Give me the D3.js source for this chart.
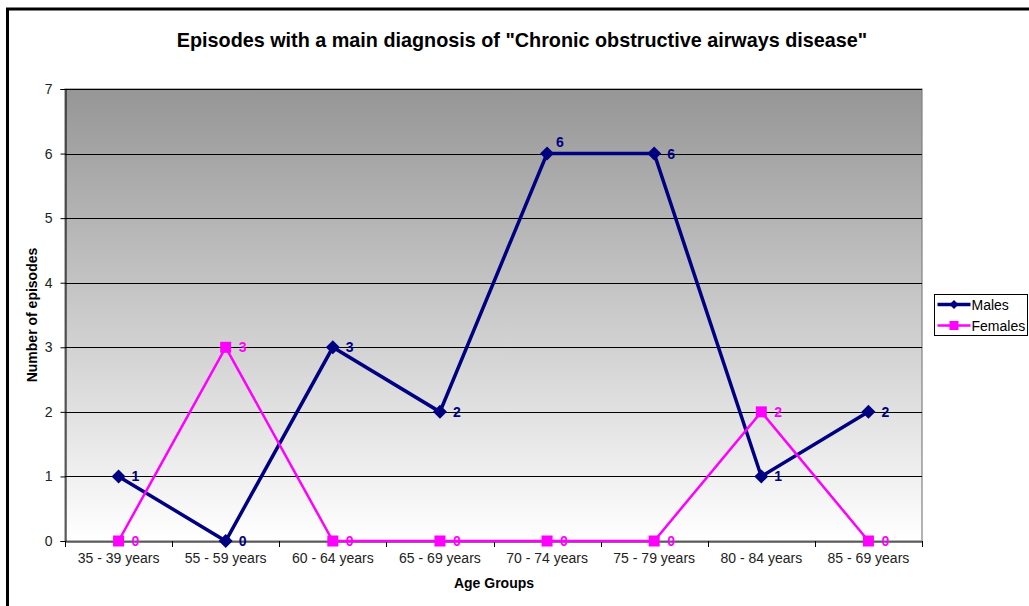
<!DOCTYPE html>
<html>
<head>
<meta charset="utf-8">
<script src="https://cdn.jsdelivr.net/npm/d3@7"></script>
<style>
  html, body { margin: 0; padding: 0; background: #fff; }
  svg { display: block; font-family: Arial, "Liberation Sans", sans-serif; }
</style>
</head>
<body>
<svg id="chart" width="1029" height="606"></svg>
<script>
// Episodes by age group
const categories = ["35 - 39 years", "55 - 59 years", "60 - 64 years", "65 - 69 years",
                    "70 - 74 years", "75 - 79 years", "80 - 84 years", "85 - 69 years"];
const males   = [1, 0, 3, 2, 6, 6, 1, 2];
const females = [0, 3, 0, 0, 0, 0, 2, 0];
const yTicks  = [0, 1, 2, 3, 4, 5, 6, 7];

const series = [
  { name: "Males",   values: males,   color: "#000080", width: 3.5, marker: "diamond" },
  { name: "Females", values: females, color: "#ff00ff", width: 2.5, marker: "square" }
];

const svg = d3.select("#chart");
const margin = { left: 65, right: 1029 - 922, top: 89, bottom: 606 - 541 };
const W = 1029, H = 606;

// outer chart frame
svg.append("rect")
  .attr("x", 7.5).attr("y", 9).attr("width", 1100).attr("height", 700)
  .attr("fill", "#fff").attr("stroke", "#000").attr("stroke-width", 3);

const x = d3.scaleBand().domain(categories).range([margin.left, W - margin.right]);
const y = d3.scaleLinear().domain([0, 7]).range([H - margin.bottom, margin.top]);

// plot area background gradient
const defs = svg.append("defs");
const grad = defs.append("linearGradient").attr("id", "bg")
  .attr("x1", 0).attr("y1", 0).attr("x2", 0).attr("y2", 1);
grad.append("stop").attr("offset", "0%").attr("stop-color", "#969696");
grad.append("stop").attr("offset", "100%").attr("stop-color", "#ffffff");

svg.append("rect")
  .attr("x", margin.left).attr("y", margin.top)
  .attr("width", W - margin.right - margin.left)
  .attr("height", H - margin.bottom - margin.top)
  .attr("fill", "url(#bg)")
  .attr("stroke", "#808080").attr("stroke-width", 1.2);

// horizontal gridlines
svg.append("g").selectAll("line").data(yTicks.slice(1)).join("line")
  .attr("x1", margin.left).attr("x2", W - margin.right)
  .attr("y1", d => Math.round(y(d)) + 0.5).attr("y2", d => Math.round(y(d)) + 0.5)
  .attr("stroke", "#000").attr("stroke-width", 1);

// y axis
const yAxis = svg.append("g")
  .attr("transform", `translate(${margin.left + 0.5},0)`)
  .call(d3.axisLeft(y).tickValues(yTicks).tickSize(5).tickPadding(8).tickFormat(d3.format("d")));
yAxis.select(".domain").attr("stroke", "#000");
yAxis.selectAll(".tick line").attr("stroke", "#000");
yAxis.selectAll("text").attr("font-size", 14).attr("fill", "#222");

// x axis
const xAxis = svg.append("g")
  .attr("transform", `translate(0,${Math.round(y(0)) + 0.5})`)
  .call(d3.axisBottom(x).tickSize(0).tickPadding(12));
xAxis.select(".domain").attr("stroke", "#000");
xAxis.selectAll("text").attr("font-size", 14).attr("fill", "#222");
// category boundary ticks
svg.append("g").selectAll("line")
  .data(categories.map(c => x(c)).concat([x.range()[1]]))
  .join("line")
  .attr("x1", d => Math.round(d) + 0.5).attr("x2", d => Math.round(d) + 0.5)
  .attr("y1", Math.round(y(0))).attr("y2", Math.round(y(0)) + 6)
  .attr("stroke", "#000");

// titles
svg.append("text").attr("x", 522).attr("y", 47)
  .attr("text-anchor", "middle").attr("font-weight", "bold").attr("font-size", 19.8)
  .text('Episodes with a main diagnosis of "Chronic obstructive airways disease"');
svg.append("text").attr("x", 494).attr("y", 588)
  .attr("text-anchor", "middle").attr("font-weight", "bold").attr("font-size", 14)
  .text("Age Groups");
svg.append("text")
  .attr("transform", `translate(37,${(margin.top + H - margin.bottom) / 2}) rotate(-90)`)
  .attr("text-anchor", "middle").attr("font-weight", "bold").attr("font-size", 14)
  .text("Number of episodes");

const cx = c => x(c) + x.bandwidth() / 2;
const line = d3.line().x((d, i) => cx(categories[i])).y(d => y(d));

function drawMarker(g, type, color, px, py, s) {
  if (type === "diamond") {
    g.append("path")
      .attr("d", `M${px},${py - s}L${px + s},${py}L${px},${py + s}L${px - s},${py}Z`)
      .attr("fill", color);
  } else {
    g.append("rect").attr("x", px - s).attr("y", py - s)
      .attr("width", 2 * s).attr("height", 2 * s).attr("fill", color);
  }
}

series.forEach(s => {
  const g = svg.append("g");
  g.append("path").datum(s.values).attr("d", line)
    .attr("fill", "none").attr("stroke", s.color).attr("stroke-width", s.width)
    .attr("stroke-linejoin", "miter");
  s.values.forEach((v, i) => {
    const px = cx(categories[i]), py = y(v);
    drawMarker(g, s.marker, s.color, px, py, s.marker === "diamond" ? 7 : 5.5);
    // label sits right of the point; on a flat run it moves above
    const flatNext = i < s.values.length - 1 && s.values[i + 1] === v && v > 0;
    g.append("text")
      .attr("x", px + (flatNext ? 9 : 13))
      .attr("y", py + (flatNext ? -7 : 5))
      .attr("font-size", 14).attr("font-weight", "bold").attr("fill", s.color)
      .text(v);
  });
});

// legend
const lg = svg.append("g").attr("transform", "translate(934.5,294.5)");
lg.append("rect").attr("width", 93).attr("height", 41)
  .attr("fill", "#fff").attr("stroke", "#000").attr("stroke-width", 1);
series.forEach((s, i) => {
  const ly = 10 + i * 21;
  lg.append("line").attr("x1", 3).attr("x2", 36).attr("y1", ly).attr("y2", ly)
    .attr("stroke", s.color).attr("stroke-width", s.width);
  drawMarker(lg, s.marker, s.color, 19.5, ly, 4.5);
  lg.append("text").attr("x", 37).attr("y", ly + 5)
    .attr("font-size", 14).attr("fill", "#000").text(s.name);
});
</script>
</body>
</html>
